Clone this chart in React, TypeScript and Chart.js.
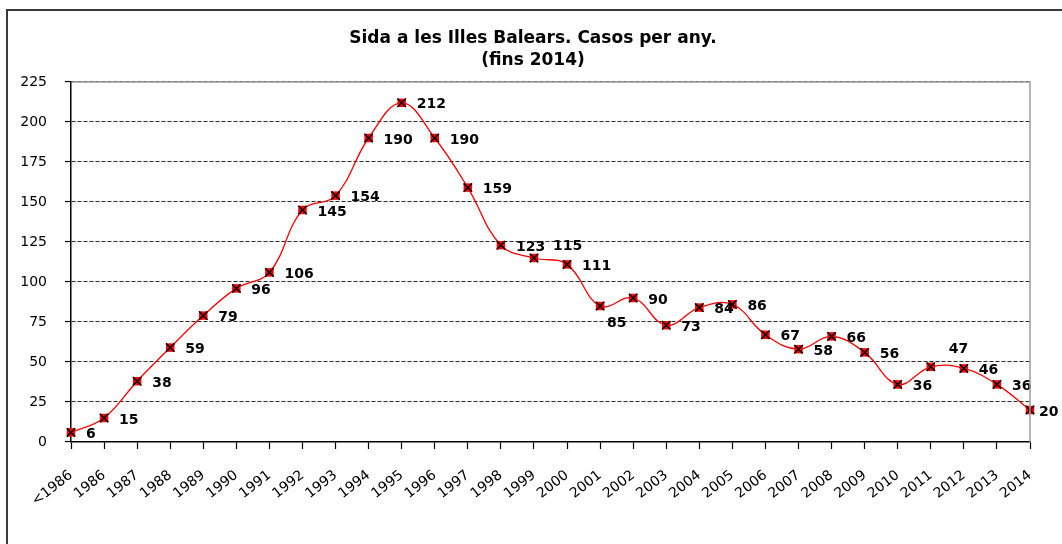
import { useEffect, useRef } from "react";
import { Chart, registerables } from "chart.js";

Chart.register(...registerables);

const categories = [
  "<1986", "1986", "1987", "1988", "1989", "1990", "1991", "1992", "1993", "1994",
  "1995", "1996", "1997", "1998", "1999", "2000", "2001", "2002", "2003", "2004",
  "2005", "2006", "2007", "2008", "2009", "2010", "2011", "2012", "2013", "2014",
];

const cases = [
  6, 15, 38, 59, 79, 96, 106, 145, 154, 190,
  212, 190, 159, 123, 115, 111, 85, 90, 73, 84,
  86, 67, 58, 66, 56, 36, 47, 46, 36, 20,
];

const yTicks = [0, 25, 50, 75, 100, 125, 150, 175, 200, 225];

const titleLines = ["Sida a les Illes Balears. Casos per any.", "(fins 2014)"];

// label placement tweaks (style only): index -> [dx, dy]
const labelShift: Record<number, [number, number]> = {
  14: [19, -12],
  16: [7, 17],
  26: [18, -17],
  29: [9, 2],
};

const FONT = "'DejaVu Sans', 'Liberation Sans', Arial, sans-serif";

const framePlugin = {
  id: "frame",
  beforeDraw(chart: any) {
    const ctx = chart.ctx;
    ctx.save();
    ctx.fillStyle = "#ffffff";
    ctx.fillRect(0, 0, chart.width, chart.height);
    ctx.strokeStyle = "#3a3a3a";
    ctx.lineWidth = 2;
    ctx.beginPath();
    ctx.moveTo(7, chart.height + 2);
    ctx.lineTo(7, 10);
    ctx.lineTo(chart.width + 2, 10);
    ctx.stroke();
    ctx.restore();
  },
  afterDraw(chart: any) {
    const ctx = chart.ctx;
    const a = chart.chartArea;
    ctx.save();
    ctx.strokeStyle = "#9a9a9a";
    ctx.lineWidth = 1.5;
    ctx.beginPath();
    ctx.moveTo(a.left + 1, a.top);
    ctx.lineTo(a.right, a.top);
    ctx.lineTo(a.right, a.bottom);
    ctx.stroke();
    ctx.fillStyle = "#000";
    ctx.font = `bold 17px ${FONT}`;
    ctx.textAlign = "center";
    ctx.textBaseline = "middle";
    const cx = 533;
    ctx.fillText(titleLines[0], cx, 39);
    ctx.fillText(titleLines[1], cx, 61);
    ctx.restore();
  },
};

const labelPlugin = {
  id: "valueLabels",
  afterDatasetsDraw(chart: any) {
    const ctx = chart.ctx;
    const meta = chart.getDatasetMeta(0);
    ctx.save();
    ctx.fillStyle = "#000";
    ctx.font = `bold 14px ${FONT}`;
    ctx.textAlign = "left";
    ctx.textBaseline = "middle";
    meta.data.forEach((pt: any, i: number) => {
      const [dx, dy] = labelShift[i] || [15, 2];
      ctx.fillText(String(cases[i]), pt.x + dx, pt.y + dy);
    });
    ctx.restore();
  },
};

export default function App() {
  const ref = useRef<HTMLCanvasElement | null>(null);

  useEffect(() => {
    if (!ref.current) return;
    const chart = new Chart(ref.current, {
      type: "line",
      data: {
        labels: categories,
        datasets: [
          {
            data: cases,
            order: 1,
            borderColor: "#ff0000",
            borderWidth: 1.3,
            tension: 0.4,
            fill: false,
            pointStyle: "rect",
            pointRadius: 6,
            pointBackgroundColor: "#ff0000",
            pointBorderColor: "#ff0000",
            pointBorderWidth: 0,
          },
          {
            data: cases,
            order: 0,
            showLine: false,
            borderColor: "#000",
            pointStyle: "crossRot",
            pointRadius: 6,
            pointBorderColor: "#000",
            pointBorderWidth: 1.5,
          },
        ],
      },
      options: {
        responsive: false,
        maintainAspectRatio: false,
        animation: false,
        devicePixelRatio: 1,
        layout: { padding: { left: 0, top: 82, right: 32, bottom: 0 } },
        plugins: {
          legend: { display: false },
          tooltip: { enabled: false },
          title: { display: false },
        },
        scales: {
          x: {
            type: "category",
            offset: false,
            grid: {
              display: true,
              drawOnChartArea: false,
              drawTicks: true,
              tickLength: 7,
              tickColor: "#000",
              tickWidth: 1.2,
            },
            border: { display: true, color: "#000", width: 1.5 },
            ticks: {
              autoSkip: false,
              minRotation: 38,
              maxRotation: 38,
              padding: 18,
              color: "#000",
              font: { family: FONT, size: 14 },
            },
            afterFit: (s: any) => {
              s.height = 102;
            },
          },
          y: {
            min: 0,
            max: 225,
            afterBuildTicks: (s: any) => {
              s.ticks = yTicks.map((v) => ({ value: v }));
            },
            grid: {
              color: "#2a2a2a",
              lineWidth: 1.1,
              tickColor: "#000",
              tickLength: 6,
              tickWidth: 1.2,
              tickBorderDash: [],
            },
            border: { display: true, color: "#000", width: 1.5, dash: [4, 2] },
            ticks: {
              padding: 18,
              color: "#000",
              font: { family: FONT, size: 14 },
            },
            afterFit: (s: any) => {
              s.width = 71;
            },
          },
        },
      },
      plugins: [framePlugin, labelPlugin],
    });
    return () => chart.destroy();
  }, []);

  return (
    <div style={{ position: "fixed", left: 0, top: 0, width: 1062, height: 544, overflow: "hidden" }}>
      <canvas ref={ref} width={1062} height={544} style={{ width: 1062, height: 544, display: "block" }} />
    </div>
  );
}
